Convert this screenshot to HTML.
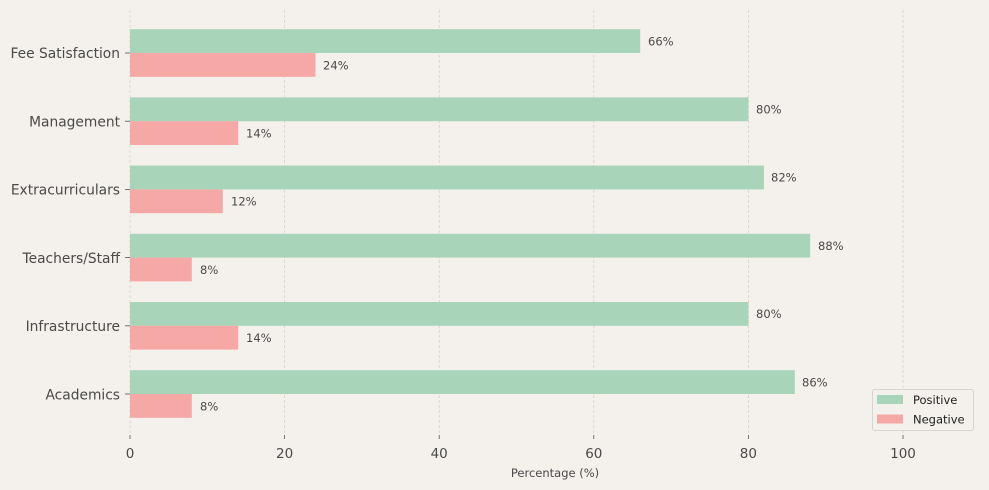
<!DOCTYPE html>
<html><head><style>body{margin:0;background:#f4f0ec}svg{display:block}</style></head><body>
<svg width="989" height="490" xmlns="http://www.w3.org/2000/svg" font-family="DejaVu Sans, Liberation Sans, sans-serif">
<rect width="989" height="490" fill="#f4f0ec"/>
<g stroke="#d2ccc6" stroke-width="0.7" stroke-dasharray="3,2">
<line x1="130" y1="10" x2="130" y2="435"/><line x1="284.6" y1="10" x2="284.6" y2="435"/><line x1="439.2" y1="10" x2="439.2" y2="435"/><line x1="593.8" y1="10" x2="593.8" y2="435"/><line x1="748.4" y1="10" x2="748.4" y2="435"/><line x1="903" y1="10" x2="903" y2="435"/>
</g>
<g fill="#a8d4b9">
<rect x="130" y="29.2" width="510.2" height="23.8"/>
<rect x="130" y="97.4" width="618.4" height="23.8"/>
<rect x="130" y="165.6" width="633.9" height="23.8"/>
<rect x="130" y="233.8" width="680.2" height="23.8"/>
<rect x="130" y="302" width="618.4" height="23.8"/>
<rect x="130" y="370.2" width="664.8" height="23.8"/>
</g>
<g fill="#f5a8a5">
<rect x="130" y="53" width="185.5" height="23.8"/>
<rect x="130" y="121.2" width="108.2" height="23.8"/>
<rect x="130" y="189.4" width="92.8" height="23.8"/>
<rect x="130" y="257.6" width="61.8" height="23.8"/>
<rect x="130" y="325.8" width="108.2" height="23.8"/>
<rect x="130" y="394" width="61.8" height="23.8"/>
</g>
<g font-size="11.5" fill="#4a4a4a">
<text x="648" y="45.5">66%</text><text x="323" y="69.5">24%</text>
<text x="756" y="113.5">80%</text><text x="246" y="137.5">14%</text>
<text x="771" y="181.5">82%</text><text x="231" y="205.5">12%</text>
<text x="818" y="250">88%</text><text x="200" y="274">8%</text>
<text x="756" y="318">80%</text><text x="246" y="342">14%</text>
<text x="802" y="386.5">86%</text><text x="200" y="410.5">8%</text>
</g>
<g stroke="#555" stroke-width="0.8">
<line x1="125" y1="53" x2="130" y2="53"/><line x1="125" y1="121.2" x2="130" y2="121.2"/><line x1="125" y1="189.4" x2="130" y2="189.4"/><line x1="125" y1="257.6" x2="130" y2="257.6"/><line x1="125" y1="325.8" x2="130" y2="325.8"/><line x1="125" y1="394" x2="130" y2="394"/>
<line x1="130" y1="435" x2="130" y2="439"/><line x1="284.6" y1="435" x2="284.6" y2="439"/><line x1="439.2" y1="435" x2="439.2" y2="439"/><line x1="593.8" y1="435" x2="593.8" y2="439"/><line x1="748.4" y1="435" x2="748.4" y2="439"/><line x1="903" y1="435" x2="903" y2="439"/>
</g>
<g font-size="13.8" fill="#4a4a4a" text-anchor="end">
<text x="120" y="58">Fee Satisfaction</text><text x="120" y="126.5">Management</text><text x="120" y="194.5">Extracurriculars</text><text x="120" y="263">Teachers/Staff</text><text x="120" y="331">Infrastructure</text><text x="120" y="399.5">Academics</text>
</g>
<g font-size="13.5" fill="#4a4a4a" text-anchor="middle">
<text x="130" y="458">0</text><text x="284.6" y="458">20</text><text x="439.2" y="458">40</text><text x="593.8" y="458">60</text><text x="748.4" y="458">80</text><text x="903" y="458">100</text>
<text x="555" y="477" font-size="11.5">Percentage (%)</text>
</g>
<rect x="872.5" y="389.5" width="101" height="41" rx="2" fill="#f4f0ec" stroke="#d8d4d0"/>
<rect x="877" y="395" width="26" height="9" fill="#a8d4b9"/>
<rect x="877" y="414.5" width="26" height="9" fill="#f5a8a5"/>
<g font-size="11.5" fill="#222"><text x="913" y="404">Positive</text><text x="913" y="423.5">Negative</text></g>
</svg>
</body></html>
